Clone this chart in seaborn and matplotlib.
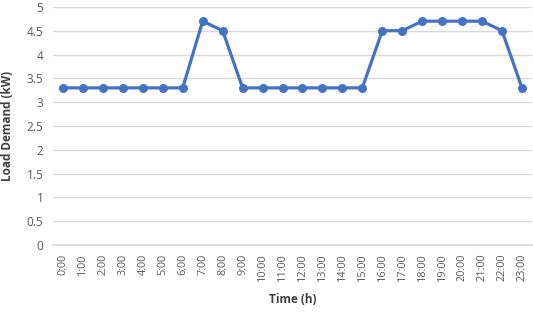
import matplotlib
matplotlib.use("Agg")
import matplotlib.pyplot as plt
import seaborn as sns
import pandas as pd

hours = [f"{h}:00" for h in range(24)]
load = [3.3, 3.3, 3.3, 3.3, 3.3, 3.3, 3.3, 4.7, 4.5, 3.3, 3.3, 3.3,
        3.3, 3.3, 3.3, 3.3, 4.5, 4.5, 4.7, 4.7, 4.7, 4.7, 4.5, 3.3]

sns.set_theme(style="white")
plt.rcParams['font.family'] = ['Open Sans', 'DejaVu Sans']

df = pd.DataFrame({"Time": hours, "Load": load})
fig = plt.figure(figsize=(5.33, 3.13), dpi=100)
ax = fig.add_axes([0.0995, 0.217, 0.8985, 0.761])
sns.lineplot(data=df, x="Time", y="Load", ax=ax, color="#4472C4", linewidth=2.3,
             marker="o", markersize=6.5, markeredgewidth=0, sort=False)
ax.set_xlim(-0.5, 23.5)
ax.set_ylim(0, 5)
ax.set_yticks([i * 0.5 for i in range(11)])
ax.set_yticklabels(["0", "0.5", "1", "1.5", "2", "2.5", "3", "3.5", "4", "4.5", "5"])
ax.yaxis.grid(True, color="#D9D9D9", linewidth=1)
ax.set_axisbelow(True)
for s in ax.spines.values():
    s.set_visible(False)
ax.spines['bottom'].set_visible(True)
ax.spines['bottom'].set_color("#D9D9D9")
ax.tick_params(axis='y', length=0, labelsize=8.5, colors="#595959", pad=7)
ax.tick_params(axis='x', length=0, labelsize=7.8, colors="#595959", pad=6)
plt.setp(ax.get_xticklabels(), rotation=90)
ax.set_xlabel("Time (h)", fontsize=8.5, fontweight="bold", color="#404040")
ax.set_ylabel("Load Demand (kW)", fontsize=8.5, fontweight="bold", color="#404040")
ax.yaxis.set_label_coords(-0.082, 0.5)
ax.xaxis.set_label_coords(0.5, -0.2)
fig.savefig("out.png", dpi=100)
